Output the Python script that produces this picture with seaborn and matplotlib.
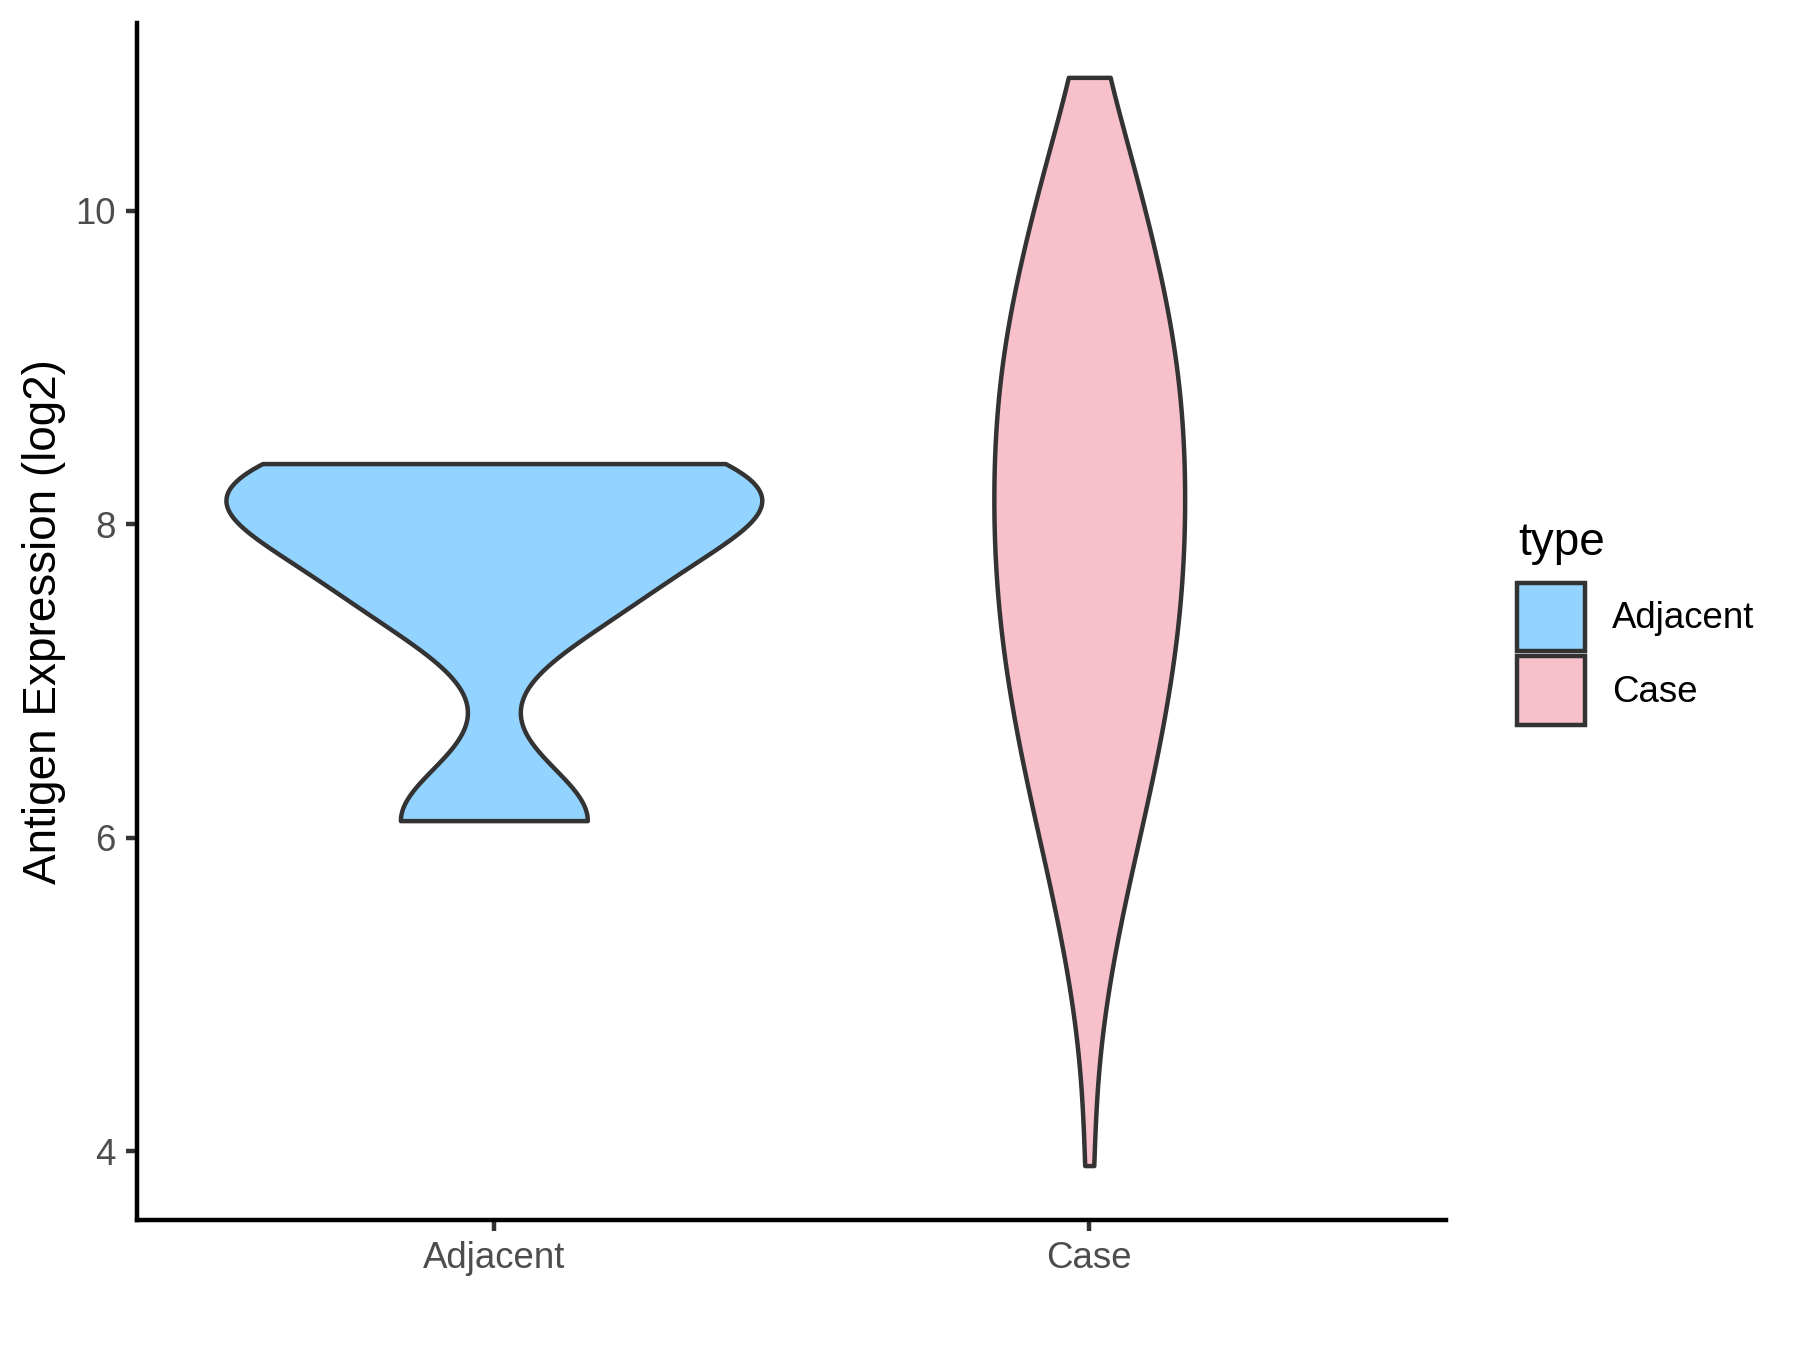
import numpy as np
import pandas as pd
import matplotlib
matplotlib.use("Agg")
import matplotlib.pyplot as plt
from matplotlib.patches import Patch
import seaborn as sns

# values (log2 antigen expression)
groups = ["Adjacent", "Case"]
adjacent_values = [6.11, 7.50, 8.00, 8.22, 8.387]
case_values = [3.91, 4.74, 5.05, 5.23, 5.41, 5.55, 5.66, 5.78, 5.88, 5.95,
               6.03, 6.10, 6.18, 6.25, 6.33, 6.39, 6.45, 6.51, 6.56, 6.62,
               6.68, 6.73, 6.79, 6.84, 6.89, 6.94, 6.99, 7.03, 7.08, 7.13,
               7.18, 7.23, 7.29, 7.32, 7.37, 7.41, 7.45, 7.49, 7.54, 7.58,
               7.62, 7.66, 7.71, 7.75, 7.79, 7.83, 7.88, 7.92, 7.96, 8.00,
               8.05, 8.09, 8.13, 8.17, 8.22, 8.26, 8.30, 8.34, 8.38, 8.43,
               8.47, 8.51, 8.55, 8.59, 8.64, 8.68, 8.72, 8.76, 8.81, 8.85,
               8.89, 8.94, 8.98, 9.03, 9.07, 9.12, 9.16, 9.21, 9.26, 9.31,
               9.36, 9.41, 9.46, 9.51, 9.56, 9.62, 9.68, 9.74, 9.81, 9.87,
               9.93, 9.99, 10.08, 10.17, 10.26, 10.35, 10.44, 10.53, 10.63, 10.85]
colors = ["#92D3FF", "#F7C0CB"]
y_ticks = [4, 6, 8, 10]
y_label = "Antigen Expression (log2)"
legend_title = "type"

df = pd.DataFrame({
    "type": ["Adjacent"] * len(adjacent_values) + ["Case"] * len(case_values),
    "value": adjacent_values + case_values,
})


def nrd0(kde):
    # R's bw.nrd0, expressed as a factor of the sample sd
    x = np.asarray(kde.dataset).ravel()
    sd = x.std(ddof=1)
    q25, q75 = np.percentile(x, [25, 75])
    lo = min(sd, (q75 - q25) / 1.34)
    return 0.9 * lo * len(x) ** -0.2 / sd


plt.rcParams["font.family"] = ["Liberation Sans", "DejaVu Sans"]

fig = plt.figure(figsize=(6, 4.5), dpi=300)
ax = fig.add_axes([0.0759, 0.0963, 0.8036 - 0.0759, 0.983 - 0.0963])

lw = 1.07
sns.violinplot(data=df, x="type", y="value", hue="type", order=groups,
               hue_order=groups, palette=colors, saturation=1, cut=0,
               density_norm="area", common_norm=True, width=0.9,
               inner=None, linewidth=lw, linecolor="#333333", gridsize=512,
               bw_method=nrd0, legend=False, ax=ax)

# ggplot-like limits: 5% padding on y, 0.6 on discrete x
lo, hi = df["value"].min(), df["value"].max()
pad = (hi - lo) * 0.05
ax.set_ylim(lo - pad, hi + pad)
ax.set_xlim(-0.6, 1.6)
ax.set_yticks(y_ticks)

ax.set_xlabel("")
ax.set_ylabel(y_label, fontsize=11, color="black", labelpad=2.2)
for side in ["top", "right"]:
    ax.spines[side].set_visible(False)
for side in ["left", "bottom"]:
    ax.spines[side].set_linewidth(lw)
    ax.spines[side].set_color("black")
ax.tick_params(axis="both", direction="out", length=2.75, width=lw,
               color="#333333", labelcolor="#4D4D4D", labelsize=8.8, pad=2.2)

# legend keys, with the title placed on its own
handles = [Patch(facecolor=c, edgecolor="#333333", linewidth=lw) for c in colors]
fig.legend(handles, groups, loc="center left",
           bbox_to_anchor=(0.843, 0.5159), frameon=False, fontsize=8.8,
           handlelength=1.85, handleheight=2.48,
           labelspacing=0.16, handletextpad=0.72, borderpad=0,
           borderaxespad=0)
fig.text(0.8433, 0.5889, legend_title, fontsize=11, va="baseline", ha="left")

fig.savefig("out.png", dpi=300, facecolor="white")
